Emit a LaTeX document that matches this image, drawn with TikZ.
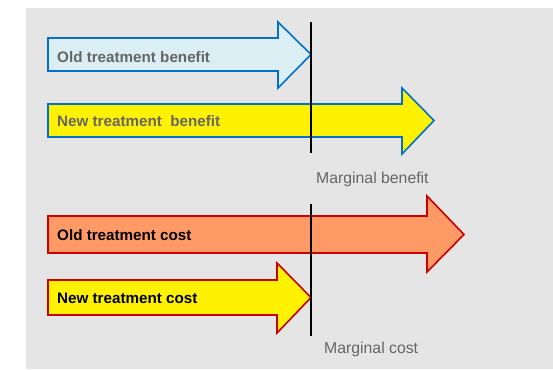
\documentclass[tikz,border=0pt]{standalone}
\usepackage{fontspec}
\setmainfont{Liberation Sans}
\usetikzlibrary{calc}
\definecolor{bgGray}{HTML}{E5E5E5}
\definecolor{lineBlue}{HTML}{0070C8}
\definecolor{lineRed}{HTML}{C80000}
\definecolor{paleCyan}{HTML}{DAEEF3}
\definecolor{salmon}{HTML}{FF9966}
\definecolor{textGray}{HTML}{666666}
% fat arrow: [style](left x, body top, body bottom)(head x, head top, head bottom, tip x)
\def\fatarrow[#1](#2,#3,#4)(#5,#6,#7,#8){\draw[#1] (#2,#3) -- (#5,#3) -- (#5,#6) -- (#8,{(#3+#4)/2}) -- (#5,#7) -- (#5,#4) -- (#2,#4) -- cycle;}
\tikzset{
  label/.style={anchor=base west, inner sep=0pt, font=\fontsize{15.2}{17}\selectfont\bfseries},
  marginal/.style={anchor=base west, inner sep=0pt, text=textGray, font=\fontsize{15.8}{18}\selectfont},
}

\begin{document}
\begin{tikzpicture}[x=1pt, y=-1pt]
			%%%%% START %%%%%
			\useasboundingbox (0, 0) rectangle (553, 369);
			\fill[bgGray] (26, 8) rectangle (553, 369);
			
			% benefits
			\fatarrow[line width=1.6pt, draw=lineBlue, fill=paleCyan](48, 38, 71)(278, 22, 88, 311)
			\fatarrow[line width=1.6pt, draw=lineBlue, fill=yellow](48, 104, 137)(402, 88, 154, 434)
			\node[label, text=textGray] (oldbenefit) at (57, 62) {Old treatment benefit};
			\node[label, text=textGray] (newbenefit) at (57, 126) {New treatment~ benefit};
			
			\draw[line width=1.6pt] (311, 22) -- (311, 153);
			\node[marginal] (mbenefit) at (316, 183) {Marginal benefit};
			
			% costs
			\fatarrow[line width=1.6pt, draw=lineRed, fill=salmon](48, 216, 253)(427, 196, 272, 464)
			\fatarrow[line width=1.6pt, draw=lineRed, fill=yellow](48, 280, 315)(277, 263, 333, 311)
			\node[label] (oldcost) at (57, 240) {Old treatment cost};
			\node[label] (newcost) at (57, 303) {New treatment cost};
			
			\draw[line width=1.6pt] (311, 204) -- (311, 336);
			\node[marginal] (mcost) at (324, 353) {Marginal cost};
			%%%%% END %%%%%
\end{tikzpicture}
\end{document}
